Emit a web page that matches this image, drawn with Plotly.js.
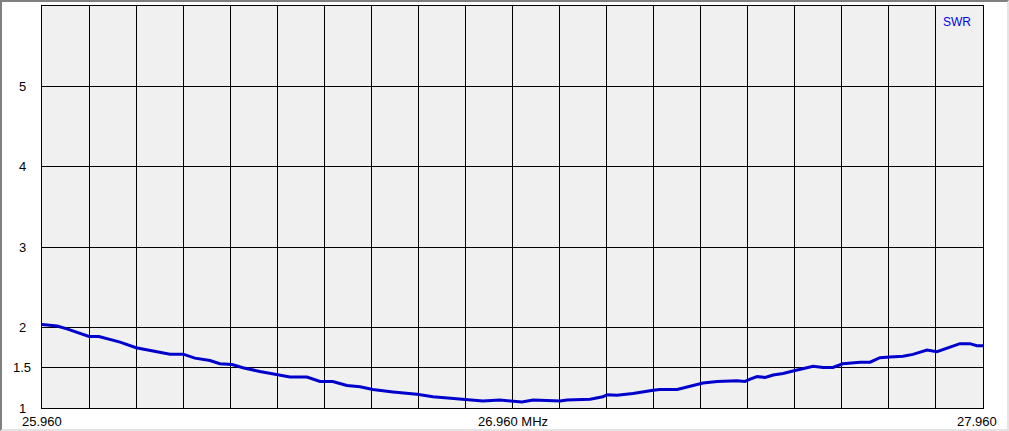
<!DOCTYPE html>
<html>
<head>
<meta charset="utf-8">
<script src="https://cdn.plot.ly/plotly-3.0.1.min.js"></script>
<style>
  html, body { margin: 0; padding: 0; background: #ffffff; }
  #wrap { position: absolute; left: 0; top: 0; width: 1009px; height: 431px; overflow: hidden; }
  #chart { position: absolute; left: 0; top: 0; width: 1009px; height: 431px; }
  #frame { position: absolute; left: 0; top: 0; width: 1005px; height: 427px; pointer-events: none;
           border-left: 2px solid #808080; border-top: 2px solid #808080;
           border-right: 2px solid #e4e4e4; border-bottom: 2px solid #e4e4e4; }
</style>
</head>
<body>
<div id="wrap">
  <div id="chart"></div>
  <div id="frame"></div>
</div>
<script>
// Frequency (MHz) and SWR readings
const freqMHz = [25.960, 25.992, 26.013, 26.041, 26.060, 26.081, 26.105, 26.126, 26.160, 26.190,
  26.232, 26.260, 26.285, 26.317, 26.338, 26.364, 26.387, 26.423, 26.459, 26.487,
  26.523, 26.551, 26.578, 26.608, 26.636, 26.663, 26.706, 26.757, 26.791, 26.827,
  26.855, 26.897, 26.933, 26.970, 26.980, 27.004, 27.040, 27.061, 27.076, 27.125,
  27.152, 27.161, 27.182, 27.216, 27.259, 27.273, 27.310, 27.337, 27.365, 27.395,
  27.437, 27.454, 27.465, 27.480, 27.497, 27.514, 27.535, 27.556, 27.571, 27.599,
  27.620, 27.641, 27.662, 27.699, 27.720, 27.741, 27.762, 27.790, 27.811, 27.841,
  27.862, 27.890, 27.911, 27.932, 27.947, 27.960];
const swr = [2.04, 2.02, 1.985, 1.93, 1.89, 1.89, 1.85, 1.82, 1.75, 1.72,
  1.67, 1.67, 1.62, 1.59, 1.55, 1.54, 1.50, 1.455, 1.42, 1.385,
  1.385, 1.33, 1.33, 1.28, 1.265, 1.23, 1.20, 1.17, 1.14, 1.125,
  1.11, 1.087, 1.10, 1.083, 1.075, 1.10, 1.087, 1.087, 1.10, 1.11,
  1.14, 1.165, 1.16, 1.18, 1.22, 1.23, 1.23, 1.27, 1.31, 1.33,
  1.34, 1.33, 1.36, 1.39, 1.38, 1.41, 1.43, 1.46, 1.48, 1.52,
  1.505, 1.505, 1.55, 1.57, 1.57, 1.625, 1.635, 1.645, 1.667, 1.72,
  1.70, 1.76, 1.80, 1.80, 1.775, 1.775];

const xGridStart = 25.96, xGridStep = 0.1, xGridCount = 21;
const xGrid = Array.from({length: xGridCount}, (_, i) => +(xGridStart + i * xGridStep).toFixed(3));
const xLabelVals = [25.96, 26.96, 27.96];
const xLabelText = ["25.960", "26.960 MHz", "27.960"];
const yTickVals = [1, 1.5, 2, 3, 4, 5];
const yTickText = ["1", "1.5", "2", "3", "4", "5"];
const seriesName = "SWR";

const font = {family: "Liberation Sans, Arial, sans-serif", size: 13, color: "#000000"};

const annotations = [];
yTickVals.forEach((v, i) => {
  annotations.push({xref: "paper", yref: "y", x: 0, y: v, xshift: -20, text: yTickText[i],
    showarrow: false, xanchor: "center", yanchor: "middle", font: font});
});
xLabelVals.forEach((v, i) => {
  const last = i === xLabelVals.length - 1;
  annotations.push({xref: "x", yref: "paper", x: v, y: 0, yshift: -4,
    xshift: last ? 16 : 0, text: xLabelText[i], showarrow: false,
    xanchor: last ? "right" : "center", yanchor: "top", font: font});
});
annotations.push({xref: "paper", yref: "paper", x: 1, y: 1, xshift: -10, yshift: -7,
  text: seriesName, showarrow: false, xanchor: "right", yanchor: "top",
  font: {family: "Liberation Sans, Arial, sans-serif", size: 12, color: "#0000ee"}});

const data = [{
  x: freqMHz, y: swr, type: "scatter", mode: "lines", name: seriesName,
  line: {color: "#0000cc", width: 3}, hoverinfo: "skip"
}];

const layout = {
  width: 1009, height: 431,
  margin: {l: 42, r: 26, t: 6, b: 23, pad: 0},
  paper_bgcolor: "#ffffff", plot_bgcolor: "#f0f0f0",
  showlegend: false, font: font,
  xaxis: {range: [25.96, 27.96], tickmode: "array", tickvals: xGrid, showticklabels: false,
    ticks: "", showgrid: true, gridcolor: "#000000", gridwidth: 1, zeroline: false,
    showline: true, linecolor: "#000000", linewidth: 1, mirror: true, fixedrange: true},
  yaxis: {range: [1, 6], tickmode: "array", tickvals: yTickVals, showticklabels: false,
    ticks: "", showgrid: true, gridcolor: "#000000", gridwidth: 1, zeroline: false,
    showline: true, linecolor: "#000000", linewidth: 1, mirror: true, fixedrange: true},
  annotations: annotations
};

Plotly.newPlot("chart", data, layout, {staticPlot: true, displayModeBar: false});
</script>
</body>
</html>
